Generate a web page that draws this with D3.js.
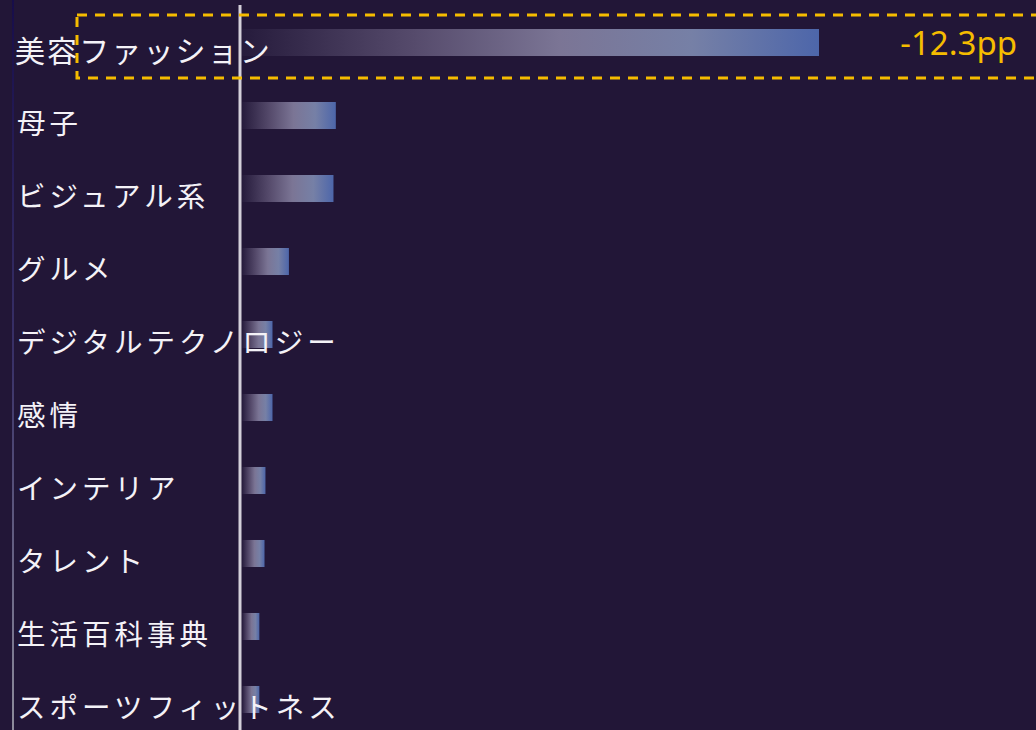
<!DOCTYPE html>
<html>
<head>
<meta charset="utf-8">
<script src="https://cdn.jsdelivr.net/npm/d3@7"></script>
<style>
  html, body { margin: 0; padding: 0; background: #221637; }
  svg { display: block; }
</style>
</head>
<body>
<svg id="chart" width="1036" height="730"></svg>
<script>
// Category labels, top to bottom
const categories = [
  "美容ファッション", "母子", "ビジュアル系", "グルメ", "デジタルテクノロジー",
  "感情", "インテリア", "タレント", "生活百科事典", "スポーツフィットネス"
];
// Change in share (percentage points) for each category
const changes = [-12.3, -2.0, -1.95, -1.0, -0.65, -0.65, -0.5, -0.48, -0.37, -0.37];
// Callout text for the highlighted category
const calloutText = "-12.3pp";
const highlighted = "美容ファッション";

const W = 1036, H = 730;
const svg = d3.select("#chart");
const defs = svg.append("defs");

// Horizontal fill for the bars: fades from the background into slate blue
const barGrad = defs.append("linearGradient")
  .attr("id", "barFill").attr("x1", 0).attr("x2", 1).attr("y1", 0).attr("y2", 0);
[[0, "#261b3c"], [0.3, "#564b6c"], [0.55, "#7b7595"], [0.78, "#7680a6"], [1, "#4d66aa"]]
  .forEach(([o, c]) => barGrad.append("stop").attr("offset", o).attr("stop-color", c));

// Left rule: navy at the top, grey at the bottom
const ruleGrad = defs.append("linearGradient")
  .attr("id", "ruleFill").attr("x1", 0).attr("x2", 0).attr("y1", 0).attr("y2", 1);
[[0, "#170d4a"], [0.5, "#3a3268"], [1, "#8e8c9c"]]
  .forEach(([o, c]) => ruleGrad.append("stop").attr("offset", o).attr("stop-color", c));

const x = d3.scaleLinear()
  .domain([0, d3.max(changes, d => Math.abs(d))])
  .range([242, 819]);

const y = d3.scaleBand()
  .domain(categories)
  .range([29, 713])
  .paddingInner(0.63)
  .paddingOuter(0);

const rows = categories.map((c, i) => ({ cat: c, value: changes[i] }));

// left rule
svg.append("rect")
  .attr("x", 12).attr("y", 0).attr("width", 2).attr("height", H)
  .attr("fill", "url(#ruleFill)");

// bars
svg.append("g").selectAll("rect")
  .data(rows).join("rect")
  .attr("x", x(0))
  .attr("y", d => y(d.cat))
  .attr("width", d => x(Math.abs(d.value)) - x(0))
  .attr("height", y.bandwidth())
  .attr("fill", "url(#barFill)");

// zero line
svg.append("rect")
  .attr("x", x(0) - 3.5).attr("y", 5).attr("width", 3).attr("height", H - 5)
  .attr("fill", "#d4d0da");

// category labels
svg.append("g").selectAll("text")
  .data(rows).join("text")
  .attr("x", d => d.cat === highlighted ? 15 : 17)
  .attr("y", d => y(d.cat) + y.bandwidth() / 2 + 6)
  .attr("dominant-baseline", "central")
  .attr("fill", "#f4f2f7")
  .style("font-family", "'Noto Sans CJK JP', sans-serif")
  .style("font-size", d => d.cat === highlighted ? "30px" : "28.5px")
  .style("letter-spacing", d => d.cat === highlighted ? "2.1px" : "4px")
  .text(d => d.cat);

// highlight box around the top category
const hy = y(highlighted);
svg.append("rect")
  .attr("x", 77).attr("y", hy - 14)
  .attr("width", W - 77 + 10).attr("height", y.bandwidth() + 36)
  .attr("fill", "none")
  .attr("stroke", "#f5bc00")
  .attr("stroke-width", 3)
  .attr("stroke-dasharray", "10 8");

// callout value
svg.append("text")
  .attr("x", 1017).attr("y", hy + 26)
  .attr("text-anchor", "end")
  .attr("fill", "#f5bc00")
  .style("font-family", "'Noto Sans', sans-serif")
  .style("font-size", "33px")
  .text(calloutText);
</script>
</body>
</html>
